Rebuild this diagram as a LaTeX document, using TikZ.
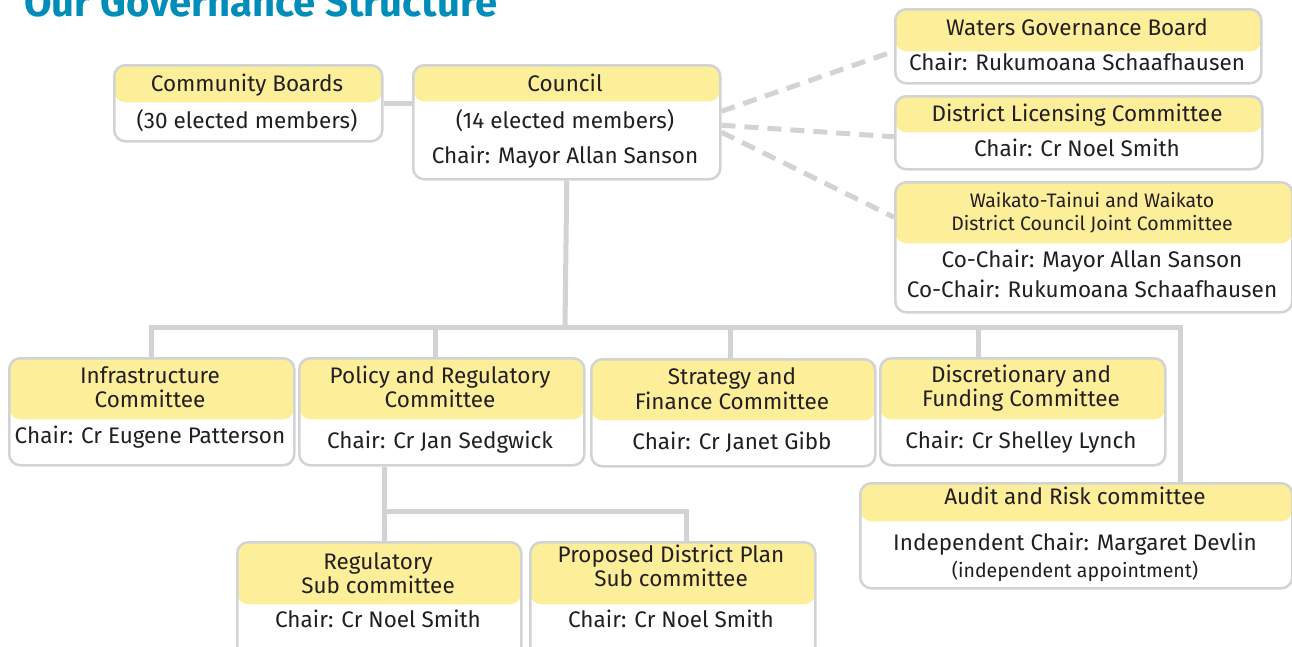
\documentclass[tikz,border=0pt]{standalone}
\usepackage{fontspec}
\setmainfont{Fira Sans}
\definecolor{linegray}{HTML}{D1D3D4}
\definecolor{headyellow}{HTML}{FDEE9A}
\definecolor{inkgray}{HTML}{231F20}
\definecolor{titleblue}{HTML}{008DB9}
\tikzset{
  box/.style={draw=linegray, line width=2.5pt, rounded corners=11pt,
    inner sep=0pt, anchor=north west},
  head/.style={preaction={fill=white, path picture={\fill[headyellow]
    (path picture bounding box.north west) rectangle
    ([yshift=-#1]path picture bounding box.north east);}}},
  tree/.style={draw=linegray, line width=5pt},
  link/.style={draw=linegray, line width=5pt, dash pattern=on 14pt off 9pt},
  txt/.style={anchor=base, inner sep=0pt, text=inkgray, font=\fontsize{22.5}{24}\selectfont},
  small/.style={txt, font=\fontsize{19.5}{20}\selectfont}
}
\begin{document}
\begin{tikzpicture}[x=1pt, y=-1pt]

  \useasboundingbox (0,0) rectangle (1292,646); %% page

  \node[anchor=base west, inner sep=0pt, text=titleblue,
    font=\fontsize{40}{44}\selectfont\bfseries] (title) at (24,16) {Our Governance Structure};

  %% boxes
  \node[box, head=37pt, minimum width=268pt, minimum height=76pt] (cboards) at (113,64) {};
  \node[box, head=36pt, minimum width=307pt, minimum height=114pt] (council) at (412,64) {};
  \node[box, head=42pt, minimum width=366pt, minimum height=74pt] (waters) at (894,8) {};
  \node[box, head=36pt, minimum width=367pt, minimum height=73pt] (licensing) at (894,95) {};
  \node[box, head=61pt, minimum width=397pt, minimum height=130pt] (joint) at (894,181) {};
  \node[box, head=61pt, minimum width=285pt, minimum height=107pt] (infra) at (8,357) {};
  \node[box, head=61pt, minimum width=285pt, minimum height=107pt] (policy) at (298,357) {};
  \node[box, head=61pt, minimum width=284pt, minimum height=107pt] (strategy) at (590,358) {};
  \node[box, head=61pt, minimum width=285pt, minimum height=107pt] (funding) at (879,357) {};
  \node[box, head=38pt, minimum width=432pt, minimum height=105pt] (audit) at (859,482) {};
  \node[box, head=62pt, minimum width=284pt, minimum height=115pt] (regsub) at (236,541) {};
  \node[box, head=62pt, minimum width=285pt, minimum height=115pt] (plansub) at (529,541) {};

  %% connectors
  \draw[tree] (cboards.east) -- (council.west |- cboards.east);
  \draw[link] ([yshift=11]council.east) -- ([yshift=-5]waters.west);
  \draw[link] ([yshift=-3]council.east) -- ([yshift=-4]licensing.west);
  \draw[link] ([yshift=-10]council.east) -- ([yshift=30]joint.west);

  \coordinate (bus) at (565,327);
  \coordinate (auditin) at (1180,482);
  \draw[tree] (council.south) -- (bus);
  \draw[tree] (infra.north) |- (bus) -| (auditin);
  \draw[tree] ([xshift=-6]policy.north) -- ([xshift=-6]policy.north |- bus);
  \draw[tree] ([xshift=-3]strategy.north) -- ([xshift=-3]strategy.north |- bus);
  \draw[tree] ([xshift=-44]funding.north) -- ([xshift=-44]funding.north |- bus);

  \coordinate (subbus) at (384,511);
  \draw[tree] (policy.south -| subbus) -- (regsub.north -| subbus);
  \draw[tree] (subbus) -| ([xshift=14]plansub.north);

  %% texts
  \foreach \x/\y/\t [count=\i] in {
    247/91/Community Boards, 247/128/(30 elected members),
    565/91/Council, 565/128/(14 elected members), 565/163/Chair: Mayor Allan Sanson,
    1077/35/Waters Governance Board, 1077/70/Chair: Rukumoana Schaafhausen,
    1077/121/District Licensing Committee, 1077/156/Chair: Cr Noel Smith,
    1092/267/Co-Chair: Mayor Allan Sanson, 1092/297/Co-Chair: Rukumoana Schaafhausen,
    150/383/Infrastructure, 150/407/Committee, 150/443/Chair: Cr Eugene Patterson,
    440/383/Policy and Regulatory, 440/407/Committee, 440/448/Chair: Cr Jan Sedgwick,
    732/384/Strategy and, 732/409/Finance Committee, 732/449/Chair: Cr Janet Gibb,
    1021/382/Discretionary and, 1021/406/Funding Committee, 1021/448/Chair: Cr Shelley Lynch,
    1075/504/Audit and Risk committee, 1075/550/Independent Chair: Margaret Devlin,
    378/569/Regulatory, 378/593/Sub committee, 378/627/Chair: Cr Noel Smith,
    671/562/Proposed District Plan, 671/586/Sub committee, 671/627/Chair: Cr Noel Smith}
    \node[txt] (line\i) at (\x,\y) {\t};

  \foreach \x/\y/\t [count=\i] in {
    1092/207/Waikato-Tainui and Waikato, 1092/230/District Council Joint Committee,
    1075/577/(independent appointment)}
    \node[small] (note\i) at (\x,\y) {\t};

\end{tikzpicture}
\end{document}
